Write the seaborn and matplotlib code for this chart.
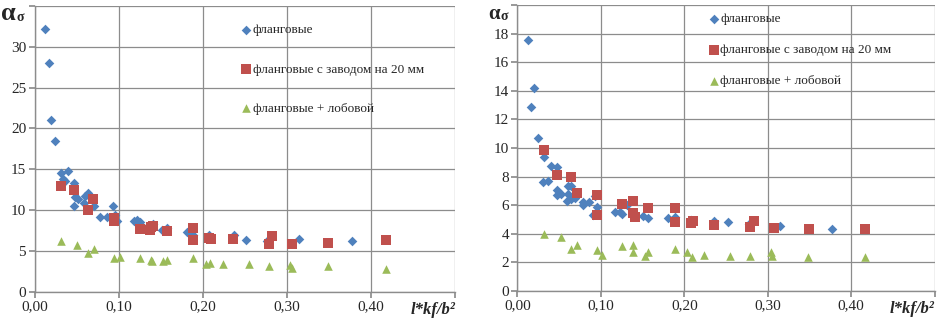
import numpy as np
import pandas as pd
import matplotlib
matplotlib.use("Agg")
import matplotlib.pyplot as plt
import seaborn as sns

sns.set_theme(style="white")
plt.rcParams['font.family'] = ['Liberation Serif', 'DejaVu Serif']

# --- data: left chart ---
left_flank_x = [0.013, 0.017, 0.020, 0.024, 0.031, 0.034, 0.036, 0.040, 0.047, 0.048, 0.052, 0.047,
                0.059, 0.060, 0.063, 0.064, 0.071, 0.078, 0.086, 0.093, 0.096, 0.098, 0.118, 0.122,
                0.126, 0.134, 0.141, 0.151, 0.157, 0.181, 0.189, 0.208, 0.237, 0.252, 0.276, 0.315, 0.377]
left_flank_y = [32.2, 28.0, 21.0, 18.5, 14.6, 13.8, 13.5, 14.8, 13.3, 11.6, 11.3, 10.5,
                10.9, 11.7, 12.1, 11.9, 10.5, 9.2, 9.2, 10.5, 9.4, 8.6, 8.7, 8.8,
                8.5, 7.9, 8.3, 7.5, 7.8, 7.3, 7.0, 7.0, 7.0, 6.3, 6.2, 6.4, 6.15]
left_zavod_x = [0.032, 0.047, 0.063, 0.070, 0.095, 0.095, 0.126, 0.137, 0.139, 0.141, 0.157, 0.188,
                0.188, 0.207, 0.210, 0.236, 0.279, 0.282, 0.306, 0.349, 0.418]
left_zavod_y = [13.0, 12.4, 10.0, 11.3, 9.0, 8.7, 7.7, 7.6, 7.9, 8.1, 7.4, 7.8,
                6.3, 6.6, 6.5, 6.45, 5.8, 6.85, 5.9, 6.0, 6.3]
left_lob_x = [0.032, 0.051, 0.064, 0.071, 0.095, 0.102, 0.126, 0.138, 0.140, 0.153, 0.157, 0.188,
              0.204, 0.209, 0.224, 0.255, 0.279, 0.304, 0.306, 0.349, 0.418]
left_lob_y = [6.15, 5.75, 4.8, 5.2, 4.1, 4.3, 4.1, 3.9, 3.8, 3.8, 3.85, 4.1,
              3.4, 3.5, 3.4, 3.4, 3.1, 3.3, 2.95, 3.2, 2.8]

# --- data: right chart ---
right_flank_x = [0.013, 0.017, 0.020, 0.025, 0.031, 0.032, 0.037, 0.040, 0.048, 0.047, 0.047, 0.052,
                 0.059, 0.061, 0.061, 0.064, 0.064, 0.069, 0.079, 0.079, 0.086, 0.093, 0.096, 0.091,
                 0.117, 0.123, 0.126, 0.131, 0.151, 0.157, 0.181, 0.189, 0.208, 0.236, 0.252, 0.277,
                 0.315, 0.377]
right_flank_y = [17.55, 12.85, 14.2, 10.7, 7.6, 9.4, 7.7, 8.75, 8.65, 7.05, 6.7, 6.8,
                 6.3, 7.35, 6.8, 7.35, 6.4, 6.5, 6.2, 6.0, 6.25, 6.65, 5.9, 5.3,
                 5.55, 5.55, 5.4, 6.0, 5.25, 5.1, 5.1, 5.2, 4.95, 4.9, 4.85, 4.7,
                 4.55, 4.3]
right_zavod_x = [0.032, 0.048, 0.064, 0.071, 0.095, 0.095, 0.126, 0.138, 0.139, 0.141, 0.157, 0.189,
                 0.189, 0.208, 0.211, 0.236, 0.279, 0.283, 0.307, 0.349, 0.417]
right_zavod_y = [9.85, 8.1, 8.0, 6.85, 6.7, 5.3, 6.1, 6.3, 5.45, 5.2, 5.8, 5.8,
                 4.8, 4.75, 4.9, 4.6, 4.45, 4.9, 4.4, 4.3, 4.35]
right_lob_x = [0.032, 0.052, 0.064, 0.071, 0.095, 0.102, 0.126, 0.138, 0.139, 0.153, 0.157, 0.189,
               0.203, 0.209, 0.224, 0.255, 0.279, 0.304, 0.305, 0.348, 0.417]
right_lob_y = [4.0, 3.8, 2.95, 3.25, 2.9, 2.55, 3.15, 3.2, 2.7, 2.45, 2.75, 2.95,
               2.7, 2.35, 2.5, 2.45, 2.45, 2.7, 2.45, 2.35, 2.35]

labels = ["фланговые", "фланговые с заводом на 20 мм", "фланговые + лобовой"]
colors = ["#4F81BD", "#C0504D", "#9BBB59"]
markers = ["D", "s", "^"]
sizes = [24, 45, 38]

fig = plt.figure(figsize=(9.38, 3.19), dpi=100)
ax1 = fig.add_axes([0.0368, 0.0856, 0.4483, 0.8956])
ax2 = fig.add_axes([0.5515, 0.0878, 0.445, 0.8966])


def draw(ax, series, ymax, ystep, leg_xy, spacing, alpha_off, alpha_size):
    for (xs, ys), lab, c, m, s in zip(series, labels, colors, markers, sizes):
        sns.scatterplot(x=xs, y=ys, ax=ax, color=c, marker=m, s=s, linewidth=0, label=lab)
    ax.set_xlim(0, 0.5)
    ax.set_ylim(0, ymax)
    xt = np.arange(0, 0.51, 0.1)
    ax.set_xticks(xt)
    ax.set_xticklabels([f"{v:.2f}".replace(".", ",") for v in xt[:-1]] + [""])
    yt = np.arange(0, ymax + 0.1, ystep)
    ax.set_yticks(yt)
    ax.set_yticklabels([f"{int(v)}" for v in yt[:-1]] + [""])
    ax.grid(True, color="#8c8c8c", linewidth=0.9)
    ax.set_axisbelow(True)
    for sp in ["top", "right"]:
        ax.spines[sp].set_visible(False)
    for sp in ["left", "bottom"]:
        ax.spines[sp].set_color("#8c8c8c")
        ax.spines[sp].set_linewidth(1.0)
    ax.tick_params(axis="both", which="both", length=4, color="#8c8c8c", labelsize=11,
                   direction="out", bottom=True, left=True, pad=2)
    ax.set_xlabel("")
    ax.set_ylabel("")
    ax.legend(loc="upper left", bbox_to_anchor=leg_xy, frameon=False,
              fontsize=9.5, labelspacing=spacing, handletextpad=0.0,
              handlelength=1.0, borderaxespad=0)
    # alpha_sigma label at the top of the y-axis (offsets in points)
    ax_dx, ax_dy = alpha_off
    ax.annotate("α", xy=(0, 1), xycoords="axes fraction", xytext=(ax_dx, ax_dy),
                textcoords="offset points", fontsize=alpha_size, fontweight="bold",
                ha="left", va="baseline")
    ax.annotate("σ", xy=(0, 1), xycoords="axes fraction",
                xytext=(ax_dx + alpha_size * 0.58, ax_dy - 1),
                textcoords="offset points", fontsize=10, fontweight="bold",
                ha="left", va="baseline")
    ax.text(1.0, -0.035, "l*kf/b²", transform=ax.transAxes, fontsize=12, fontweight="bold",
            fontstyle="italic", ha="right", va="top")


draw(ax1, [(left_flank_x, left_flank_y), (left_zavod_x, left_zavod_y), (left_lob_x, left_lob_y)],
     35, 5, (0.475, 0.955), 2.05, (-24, -10), 19)
draw(ax2, [(right_flank_x, right_flank_y), (right_zavod_x, right_zavod_y), (right_lob_x, right_lob_y)],
     20, 2, (0.442, 0.99), 1.42, (-21, -10), 15)

fig.savefig("out.png", dpi=100)
